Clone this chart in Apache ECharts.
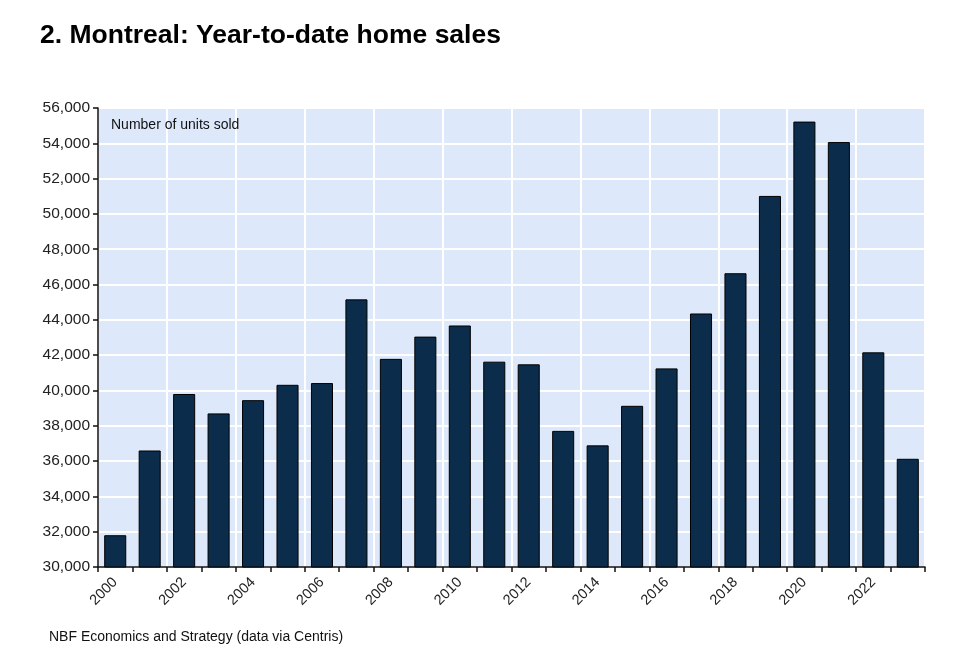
<!DOCTYPE html>
<html>
<head>
<meta charset="utf-8">
<script src="https://cdn.jsdelivr.net/npm/echarts@6/dist/echarts.min.js"></script>
<style>
html,body{margin:0;padding:0;background:#fff;}
#c{width:960px;height:658px;}
</style>
</head>
<body>
<div id="c"></div>
<script>
const years = ['2000','2001','2002','2003','2004','2005','2006','2007','2008','2009','2010','2011','2012','2013','2014','2015','2016','2017','2018','2019','2020','2021','2022','2023'];
const unitsSold = [31800,36600,39800,38700,39450,40320,40420,45160,41790,43050,43680,41630,41480,37710,36890,39130,41250,44360,46640,51020,55230,54070,42160,36130];
const yMin = 30000, yMax = 56000, yStep = 2000;

const chart = echarts.init(document.getElementById('c'));
const font = 'Liberation Sans, Arial, sans-serif';
chart.setOption({
  animation: false,
  backgroundColor: '#ffffff',
  title: [{
    text: '2. Montreal: Year-to-date home sales',
    left: 35, top: 17,
    textStyle: {fontFamily: font, fontSize: 26.5, fontWeight: 'bold', color: '#000'}
  },{
    text: 'NBF Economics and Strategy (data via Centris)',
    left: 44, top: 625,
    textStyle: {fontFamily: font, fontSize: 14, fontWeight: 'normal', color: '#111'}
  },{
    text: 'Number of units sold',
    left: 106, top: 113,
    textStyle: {fontFamily: font, fontSize: 14, fontWeight: 'normal', color: '#111'}
  }],
  grid: {left: 98, right: 35, top: 108, bottom: 91, show: true, backgroundColor: '#dde9fb', borderWidth: 0},
  xAxis: {
    type: 'category', data: years, boundaryGap: true,
    axisLine: {show: true, lineStyle: {color: '#111', width: 1.5}},
    axisTick: {show: true, interval: 0, length: 5, lineStyle: {color: '#111', width: 1.5}},
    axisLabel: {interval: 1, rotate: 45, fontFamily: font, fontSize: 14.5, color: '#222', margin: 13},
    splitLine: {show: true, interval: 1, lineStyle: {color: '#ffffff', width: 2}}
  },
  yAxis: {
    type: 'value', min: yMin, max: yMax, interval: yStep,
    axisLine: {show: true, lineStyle: {color: '#111', width: 1.5}},
    axisTick: {show: true, length: 5, lineStyle: {color: '#111', width: 1.5}},
    axisLabel: {fontFamily: font, fontSize: 15.5, color: '#222', margin: 8,
      formatter: v => v.toLocaleString('en-US')},
    splitLine: {show: true, lineStyle: {color: '#ffffff', width: 2}}
  },
  series: [{
    type: 'bar', data: unitsSold, barCategoryGap: '36%',
    itemStyle: {color: '#0b2d4b', borderColor: '#000', borderWidth: 1}
  }]
});
</script>
</body>
</html>
